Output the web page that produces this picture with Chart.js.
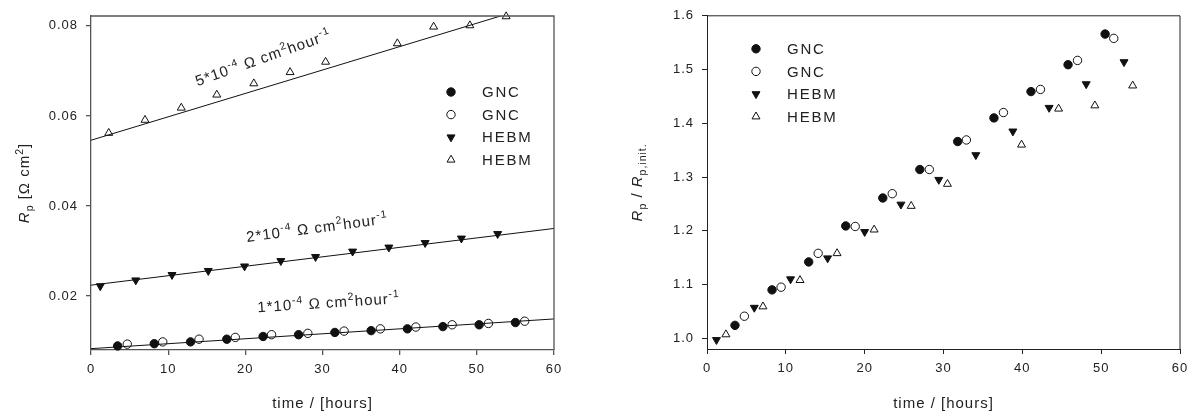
<!DOCTYPE html>
<html>
<head>
<meta charset="utf-8">
<script src="https://cdn.jsdelivr.net/npm/chart.js@4.4.1/dist/chart.umd.min.js"></script>
<style>
  body { margin: 0; background: #fff; }
  .panel { position: absolute; top: 0; width: 600px; height: 418px; }
</style>
</head>
<body>
<div class="panel" style="left:0"><canvas id="rp-chart"></canvas></div>
<div class="panel" style="left:600px"><canvas id="ratio-chart"></canvas></div>
<script>
// ---- polarisation resistance Rp [Ohm cm2] vs time ----
var gncFilledTime = [3.45, 8.2, 12.9, 17.6, 22.3, 26.9, 31.6, 36.3, 41.0, 45.6, 50.3, 55.0];
var gncFilledRp = [0.0089, 0.0094, 0.0098, 0.0104, 0.0110, 0.0114, 0.0119, 0.0123, 0.0127, 0.0132, 0.0136, 0.0141];
var gncOpenTime = [4.7, 9.3, 14.0, 18.7, 23.4, 28.1, 32.8, 37.5, 42.1, 46.8, 51.5, 56.2];
var gncOpenRp = [0.0093, 0.0098, 0.0104, 0.0108, 0.0114, 0.0117, 0.0122, 0.0127, 0.0131, 0.0136, 0.0139, 0.0144];
var hebmFilledTime = [1.2, 5.8, 10.5, 15.2, 19.9, 24.6, 29.1, 33.9, 38.6, 43.3, 48.0, 52.7];
var hebmFilledRp = [0.0222, 0.0235, 0.0247, 0.0256, 0.0266, 0.0278, 0.0287, 0.0299, 0.0308, 0.0318, 0.0328, 0.0338];
var hebmOpenTime = [2.3, 7.0, 11.7, 16.3, 21.1, 25.8, 30.4, 39.7, 44.4, 49.1, 53.8];
var hebmOpenRp = [0.0562, 0.0591, 0.0618, 0.0647, 0.0672, 0.0697, 0.0720, 0.0761, 0.0798, 0.0801, 0.0821];

// linear fits: Rp(0) and slope per hour (top, middle, bottom line)
var fitIntercept = [0.0546, 0.0224, 0.0083];
var fitSlope = [0.00052, 0.00021, 0.00011];
var fitRange = [0, 60];
var rateText = ["5*10", "2*10", "1*10"];
// where each rate label starts (time, Rp)
var rateLabelTime = [13.8, 20.2, 21.6];
var rateLabelRp = [0.0666, 0.0320, 0.0164];

// ---- normalised Rp / Rp,init vs time ----
var gncFilledRatioTime = [3.55, 8.25, 12.9, 17.6, 22.3, 27.0, 31.8, 36.4, 41.1, 45.8, 50.5];
var gncFilledRatio = [1.024, 1.090, 1.142, 1.209, 1.261, 1.314, 1.366, 1.410, 1.459, 1.509, 1.566];
var gncOpenRatioTime = [4.74, 9.4, 14.1, 18.8, 23.5, 28.2, 32.9, 37.6, 42.3, 47.0, 51.6];
var gncOpenRatio = [1.041, 1.095, 1.158, 1.208, 1.269, 1.314, 1.369, 1.420, 1.463, 1.517, 1.558];
var hebmFilledRatioTime = [1.2, 6.0, 10.6, 15.3, 20.0, 24.6, 29.4, 34.1, 38.8, 43.4, 48.1, 52.9];
var hebmFilledRatio = [0.997, 1.057, 1.110, 1.149, 1.198, 1.249, 1.295, 1.341, 1.385, 1.429, 1.473, 1.514];
var hebmOpenRatioTime = [2.4, 7.1, 11.8, 16.5, 21.2, 25.9, 30.5, 39.9, 44.6, 49.2, 54.0];
var hebmOpenRatio = [1.007, 1.059, 1.108, 1.158, 1.202, 1.246, 1.287, 1.360, 1.427, 1.433, 1.470];

var seriesNames = ["GNC", "GNC", "HEBM", "HEBM"];
var timeTicks = [0, 10, 20, 30, 40, 50, 60];
var rpTicks = [0.02, 0.04, 0.06, 0.08];
var ratioTicks = [1.0, 1.1, 1.2, 1.3, 1.4, 1.5, 1.6];

var FONT = "'Liberation Sans', Arial, sans-serif";
var INK = "#222";

function pairs(xs, ys) {
  return xs.map(function (x, i) { return { x: x, y: ys[i] }; });
}

// marker look for the four series, same order as seriesNames
var markers = [
  { pointStyle: "circle", rotation: 0, radius: 4.2, bg: "#111", border: "#111" },
  { pointStyle: "circle", rotation: 0, radius: 4.2, bg: "#fff", border: "#111" },
  { pointStyle: "triangle", rotation: 180, radius: 4.6, bg: "#111", border: "#111" },
  { pointStyle: "triangle", rotation: 0, radius: 4.6, bg: "#fff", border: "#111" }
];

function pointSet(i, data) {
  var m = markers[i];
  return {
    label: seriesNames[i],
    data: data,
    pointStyle: m.pointStyle,
    pointRotation: m.rotation,
    pointRadius: m.radius,
    pointBackgroundColor: m.bg,
    pointBorderColor: m.border,
    pointBorderWidth: 1,
    showLine: false,
    clip: false
  };
}

function fontOf(p, size) {
  var s = p.sup || p.sub ? size * 0.7 : size;
  return (p.italic ? "italic " : "") + s + "px " + FONT;
}

// text made of pieces, some raised or lowered
function drawRich(ctx, parts, x, y, size, centered) {
  var total = 0;
  parts.forEach(function (p) {
    ctx.font = fontOf(p, size);
    p.w = ctx.measureText(p.t).width;
    total += p.w;
  });
  var cx = centered ? x - total / 2 : x;
  parts.forEach(function (p) {
    ctx.font = fontOf(p, size);
    var dy = p.sup ? -size * 0.42 : (p.sub ? size * 0.28 : 0);
    ctx.fillText(p.t, cx, y + dy);
    cx += p.w;
  });
}

var spacing = {
  id: "spacing",
  beforeUpdate: function (chart) { chart.ctx.letterSpacing = "1px"; },
  beforeDraw: function (chart) { chart.ctx.letterSpacing = "1px"; }
};

// frame, axis titles, legend and rate labels
function decorations(cfg) {
  return {
    id: "decorations",
    afterDraw: function (chart) {
      var ctx = chart.ctx;
      var a = chart.chartArea;
      ctx.save();
      ctx.letterSpacing = "1px";
      ctx.strokeStyle = cfg.frame;
      ctx.lineWidth = cfg.frameWidth;
      ctx.beginPath();
      ctx.moveTo(a.left, a.top);
      ctx.lineTo(a.right, a.top);
      ctx.lineTo(a.right, a.bottom);
      ctx.stroke();

      ctx.fillStyle = INK;
      ctx.textBaseline = "alphabetic";
      ctx.textAlign = "left";

      // x title
      drawRich(ctx, [{ t: "time / [hours]" }], (a.left + a.right) / 2, 408, 15, true);

      // y title, rotated
      ctx.save();
      ctx.translate(cfg.yTitleX, (a.top + a.bottom) / 2);
      ctx.rotate(-Math.PI / 2);
      drawRich(ctx, cfg.yTitle, 0, 0, 15, true);
      ctx.restore();

      // legend
      ctx.textBaseline = "middle";
      seriesNames.forEach(function (name, i) {
        var m = markers[i];
        var ly = a.top + cfg.legendY + i * 22.6;
        ctx.fillStyle = m.bg;
        ctx.strokeStyle = m.border;
        ctx.lineWidth = 1;
        Chart.helpers.drawPoint(ctx, {
          pointStyle: m.pointStyle, rotation: m.rotation,
          radius: m.radius, borderWidth: 1
        }, a.left + cfg.legendX, ly);
        ctx.save();
        ctx.letterSpacing = "1.8px";
        ctx.fillStyle = INK;
        ctx.font = "15px " + FONT;
        ctx.fillText(name, a.left + cfg.legendX + 31, ly + 1);
        ctx.restore();
      });
      ctx.textBaseline = "alphabetic";

      // rate labels along the fitted lines, the top one a little steeper
      if (cfg.rates) {
        var xs = chart.scales.x, ys = chart.scales.y;
        var tilt = [-2.5, -0.5, 0];
        rateText.forEach(function (txt, i) {
          var x0 = xs.getPixelForValue(fitRange[0]);
          var y0 = ys.getPixelForValue(fitIntercept[i]);
          var x1 = xs.getPixelForValue(fitRange[1]);
          var y1 = ys.getPixelForValue(fitIntercept[i] + fitSlope[i] * fitRange[1]);
          var ang = Math.atan2(y1 - y0, x1 - x0) + tilt[i] * Math.PI / 180;
          ctx.save();
          ctx.translate(xs.getPixelForValue(rateLabelTime[i]), ys.getPixelForValue(rateLabelRp[i]));
          ctx.rotate(ang);
          ctx.fillStyle = INK;
          drawRich(ctx, [
            { t: txt }, { t: "-4", sup: true }, { t: " \u03A9 cm" }, { t: "2", sup: true },
            { t: "hour" }, { t: "-1", sup: true }
          ], 0, 0, 15, false);
          ctx.restore();
        });
      }
      ctx.restore();
    }
  };
}

function axes(yMin, yMax, yTicks, digits, yWidth, xHeight, lineColor, lineWidth) {
  var tickFont = { family: FONT, size: 13 };
  return {
    x: {
      type: "linear", min: 0, max: 60,
      afterBuildTicks: function (s) { s.ticks = timeTicks.map(function (v) { return { value: v }; }); },
      afterFit: function (s) { s.height = xHeight; },
      grid: { drawOnChartArea: false, drawTicks: true, tickLength: 5, color: lineColor, lineWidth: lineWidth },
      border: { color: lineColor, width: lineWidth },
      ticks: { color: INK, font: tickFont, padding: 7, maxRotation: 0,
        callback: function (v) { return String(v); } }
    },
    y: {
      type: "linear", min: yMin, max: yMax,
      afterBuildTicks: function (s) { s.ticks = yTicks.map(function (v) { return { value: v }; }); },
      afterFit: function (s) { s.width = yWidth; },
      grid: { drawOnChartArea: false, drawTicks: true, tickLength: 5, color: lineColor, lineWidth: lineWidth },
      border: { color: lineColor, width: lineWidth },
      ticks: { color: INK, font: tickFont, padding: 8,
        callback: function (v) { return Number(v).toFixed(digits); } }
    }
  };
}

var fitSets = fitIntercept.map(function (b, i) {
  return {
    label: "fit",
    data: fitRange.map(function (t) { return { x: t, y: b + fitSlope[i] * t }; }),
    showLine: true,
    borderColor: "#111",
    borderWidth: 1,
    pointRadius: 0
  };
});

new Chart("rp-chart", {
  type: "scatter",
  data: {
    datasets: fitSets.concat([
      pointSet(0, pairs(gncFilledTime, gncFilledRp)),
      pointSet(1, pairs(gncOpenTime, gncOpenRp)),
      pointSet(2, pairs(hebmFilledTime, hebmFilledRp)),
      pointSet(3, pairs(hebmOpenTime, hebmOpenRp))
    ])
  },
  options: {
    responsive: true,
    maintainAspectRatio: false,
    animation: false,
    layout: { padding: { top: 16, right: 46, left: 0, bottom: 0 } },
    plugins: { legend: { display: false }, tooltip: { enabled: false } },
    scales: axes(0.008, 0.0822, rpTicks, 2, 91, 68, "#555", 1.3)
  },
  plugins: [spacing, decorations({
    frame: "#555", frameWidth: 1.3,
    yTitleX: 29,
    yTitle: [{ t: "R", italic: true }, { t: "p", sub: true }, { t: " [\u03A9 cm" }, { t: "2", sup: true }, { t: "]" }],
    legendX: 360, legendY: 76,
    rates: true
  })]
});

new Chart("ratio-chart", {
  type: "scatter",
  data: {
    datasets: [
      pointSet(0, pairs(gncFilledRatioTime, gncFilledRatio)),
      pointSet(1, pairs(gncOpenRatioTime, gncOpenRatio)),
      pointSet(2, pairs(hebmFilledRatioTime, hebmFilledRatio)),
      pointSet(3, pairs(hebmOpenRatioTime, hebmOpenRatio))
    ]
  },
  options: {
    responsive: true,
    maintainAspectRatio: false,
    animation: false,
    layout: { padding: { top: 9, right: 20, left: 0, bottom: 0 } },
    plugins: { legend: { display: false }, tooltip: { enabled: false } },
    scales: axes(0.98, 1.6, ratioTicks, 1, 107, 69, "#222", 1)
  },
  plugins: [spacing, decorations({
    frame: "#222", frameWidth: 1,
    yTitleX: 42,
    yTitle: [{ t: "R", italic: true }, { t: "p", sub: true }, { t: " / " }, { t: "R", italic: true }, { t: "p,init.", sub: true }],
    legendX: 49, legendY: 33,
    rates: false
  })]
});
</script>
</body>
</html>
